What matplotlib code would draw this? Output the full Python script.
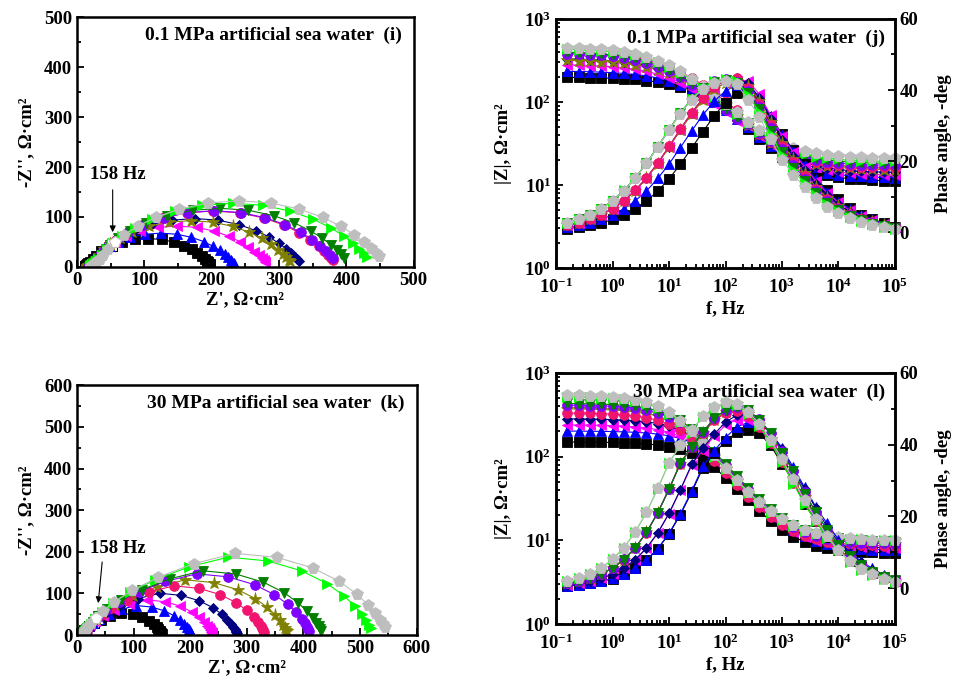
import matplotlib
matplotlib.use('Agg')
import matplotlib.pyplot as plt
from matplotlib.ticker import MultipleLocator, LogLocator, FuncFormatter, NullFormatter
import numpy as np

plt.rcParams['font.family'] = 'Liberation Serif'
plt.rcParams['font.weight'] = 'bold'
plt.rcParams['axes.labelweight'] = 'bold'
plt.rcParams['mathtext.fontset'] = 'custom'
plt.rcParams['mathtext.rm'] = 'Liberation Serif:bold'
plt.rcParams['mathtext.bf'] = 'Liberation Serif:bold'

# measuring frequencies, Hz (5 points per decade)
freq = [0.158, 0.251, 0.398, 0.631, 1.0, 1.58, 2.51, 3.98, 6.31, 10.0,
        15.8, 25.1, 39.8, 63.1, 100, 158, 251, 398, 631, 1000,
        1580, 2510, 3980, 6310, 1e4, 1.58e4, 2.51e4, 3.98e4, 6.31e4, 1e5]
hollow_idx = 15  # the 158 Hz point, drawn open in the Nyquist plots

# ---- 0.1 MPa, Z' and -Z'' (ohm cm2) ----
black_01_re = [198.0, 197.2, 196.1, 194.6, 192.5, 189.4, 185.1, 178.9, 170.3, 158.7, 143.7, 125.5, 105.5, 85.5, 67.3,
               52.3, 36.0, 28.5, 23.5, 19.5, 16.8, 14.8, 13.6, 12.8, 12.2, 11.8, 11.6, 11.4, 11.3, 11.2]
black_01_im = [3.6, 4.9, 6.7, 9.1, 12.2, 16.3, 21.4, 27.7, 35.0, 42.7, 49.8, 55.0, 56.9, 55.0, 49.8,
               42.7, 31.0, 22.0, 15.0, 10.2, 7.2, 5.2, 3.7, 2.7, 2.0, 1.4, 1.0, 0.75, 0.5, 0.3]
blue_01_re = [233.7, 232.4, 230.6, 228.0, 224.4, 219.2, 211.9, 201.7, 187.9, 170.0, 148.3, 124.5, 100.7, 79.1, 61.1,
              47.3, 37.0, 29.5, 24.5, 20.5, 17.8, 15.8, 14.6, 13.8, 13.2, 12.8, 12.6, 12.4, 12.3, 12.2]
blue_01_im = [5.9, 8.0, 10.8, 14.5, 19.4, 25.5, 33.0, 41.6, 50.9, 59.3, 65.5, 67.7, 65.5, 59.3, 50.9,
              41.6, 33.0, 23.0, 15.8, 10.6, 7.5, 5.4, 3.9, 2.8, 2.0, 1.5, 1.1, 0.8, 0.55, 0.35]
magenta_01_re = [279.5, 277.2, 274.1, 269.7, 263.5, 254.6, 242.3, 225.6, 203.9, 177.8, 149.0, 120.2, 94.1, 72.4, 55.7,
                 43.4, 38.0, 30.5, 25.5, 21.5, 18.8, 16.8, 15.6, 14.8, 14.2, 13.8, 13.6, 13.4, 13.3, 13.2]
magenta_01_im = [9.6, 13.0, 17.5, 23.4, 30.8, 39.9, 50.3, 61.5, 71.7, 79.2, 81.9, 79.2, 71.7, 61.5, 50.3,
                 39.9, 35.0, 24.5, 16.5, 11.0, 7.8, 5.6, 4.0, 2.9, 2.1, 1.5, 1.1, 0.8, 0.55, 0.35]
navy_01_re = [329.4, 326.8, 323.2, 317.9, 310.6, 300.1, 285.5, 265.7, 240.0, 209.1, 175.0, 140.9, 110.0, 84.3, 64.5,
              49.9, 39.0, 31.5, 26.5, 22.5, 19.8, 17.8, 16.6, 15.8, 15.2, 14.8, 14.6, 14.4, 14.3, 14.2]
navy_01_im = [11.4, 15.4, 20.8, 27.7, 36.5, 47.2, 59.6, 72.8, 84.9, 93.7, 96.9, 93.7, 84.9, 72.8, 59.6,
              47.2, 35.0, 24.5, 16.5, 11.0, 7.8, 5.6, 4.0, 2.9, 2.1, 1.5, 1.1, 0.8, 0.55, 0.35]
olive_01_re = [316.7, 314.2, 310.7, 305.7, 298.7, 288.6, 274.7, 255.8, 231.2, 201.6, 169.0, 136.4, 106.8, 82.2, 63.3,
               49.4, 40.0, 32.5, 27.5, 23.5, 20.8, 18.8, 17.6, 16.8, 16.2, 15.8, 15.6, 15.4, 15.3, 15.2]
olive_01_im = [10.9, 14.8, 19.9, 26.5, 34.9, 45.2, 57.0, 69.6, 81.2, 89.7, 92.7, 89.7, 81.2, 69.6, 57.0,
               45.2, 35.0, 24.5, 16.5, 11.0, 7.8, 5.6, 4.0, 2.9, 2.1, 1.5, 1.1, 0.8, 0.55, 0.35]
pink_01_re = [380.4, 377.4, 373.2, 367.1, 358.6, 346.5, 329.6, 306.8, 277.1, 241.4, 202.0, 162.6, 126.9, 97.2, 74.4,
              57.5, 41.0, 33.5, 28.5, 24.5, 21.8, 19.8, 18.6, 17.8, 17.2, 16.8, 16.6, 16.4, 16.3, 16.2]
pink_01_im = [13.2, 17.8, 24.0, 32.0, 42.1, 54.5, 68.9, 84.1, 98.1, 108.3, 112.0, 108.3, 98.1, 84.1, 68.9,
              54.5, 35.0, 24.5, 16.5, 11.0, 7.8, 5.6, 4.0, 2.9, 2.1, 1.5, 1.1, 0.8, 0.55, 0.35]
purple_01_re = [380.3, 376.1, 370.0, 361.5, 349.3, 332.3, 309.4, 279.5, 243.6, 204.0, 164.4, 128.5, 98.6, 75.7, 58.7,
                46.5, 42.0, 34.5, 29.5, 25.5, 22.8, 20.8, 19.6, 18.8, 18.2, 17.8, 17.6, 17.4, 17.3, 17.2]
purple_01_im = [17.9, 24.1, 32.2, 42.3, 54.8, 69.2, 84.5, 98.6, 108.9, 112.6, 108.9, 98.6, 84.5, 69.2, 54.8,
                42.3, 35.0, 24.5, 16.5, 11.0, 7.8, 5.6, 4.0, 2.9, 2.1, 1.5, 1.1, 0.8, 0.55, 0.35]
green_01_re = [396.9, 392.4, 386.1, 377.2, 364.5, 346.8, 322.9, 291.8, 254.3, 213.0, 171.7, 134.2, 103.1, 79.2, 61.5,
               48.8, 43.0, 35.5, 30.5, 26.5, 23.8, 21.8, 20.6, 19.8, 19.2, 18.8, 18.6, 18.4, 18.3, 18.2]
green_01_im = [18.7, 25.2, 33.5, 44.1, 57.2, 72.2, 88.1, 102.8, 113.5, 117.4, 113.5, 102.8, 88.1, 72.2, 57.2,
               44.1, 35.0, 24.5, 16.5, 11.0, 7.8, 5.6, 4.0, 2.9, 2.1, 1.5, 1.1, 0.8, 0.55, 0.35]
lime_01_re = [430.9, 426.1, 419.2, 409.5, 395.7, 376.5, 350.4, 316.6, 275.9, 231.0, 186.1, 145.4, 111.6, 85.5, 66.3,
              52.5, 44.0, 36.5, 31.5, 27.5, 24.8, 22.8, 21.6, 20.8, 20.2, 19.8, 19.6, 19.4, 19.3, 19.2]
lime_01_im = [20.3, 27.3, 36.5, 48.0, 62.2, 78.5, 95.8, 111.8, 123.4, 127.6, 123.4, 111.8, 95.8, 78.5, 62.2,
              48.0, 35.0, 24.5, 16.5, 11.0, 7.8, 5.6, 4.0, 2.9, 2.1, 1.5, 1.1, 0.8, 0.55, 0.35]
gray_01_re = [448.5, 443.4, 436.3, 426.2, 411.9, 392.0, 364.9, 329.9, 287.6, 241.0, 194.4, 152.1, 117.1, 90.0, 70.1,
              55.8, 46.0, 38.5, 33.5, 29.5, 26.8, 24.8, 23.6, 22.8, 22.2, 21.8, 21.6, 21.4, 21.3, 21.2]
gray_01_im = [21.1, 28.4, 37.8, 49.8, 64.5, 81.4, 99.4, 116.0, 128.1, 132.4, 128.1, 116.0, 99.4, 81.4, 64.5,
              49.8, 35.0, 24.5, 16.5, 11.0, 7.8, 5.6, 4.0, 2.9, 2.1, 1.5, 1.1, 0.8, 0.55, 0.35]

# ---- 30 MPa, Z' and -Z'' (ohm cm2) ----
black_30_re = [149.5, 149.2, 148.8, 148.3, 147.4, 146.0, 143.9, 140.6, 135.2, 126.9, 114.7, 98.1, 78.5, 58.9, 42.3,
               30.1, 21.8, 16.4, 13.1, 11.0, 9.6, 8.8, 8.2, 7.8, 7.6, 7.4, 7.3, 7.2, 7.1, 7.1]
black_30_im = [1.6, 2.3, 3.4, 4.8, 6.9, 9.8, 13.8, 19.2, 26.1, 34.3, 42.7, 49.4, 51.9, 45.4, 36.7,
               28.5, 21.1, 15.4, 10.9, 7.6, 5.5, 3.8, 2.8, 2.0, 1.44, 1.0, 0.76, 0.54, 0.37, 0.26]
blue_30_re = [201.8, 201.4, 200.9, 200.1, 198.9, 197.1, 194.2, 189.6, 182.4, 171.1, 154.3, 131.7, 105.0, 78.3, 55.7,
              38.9, 27.6, 20.4, 15.8, 12.9, 11.1, 9.9, 9.1, 8.6, 8.3, 8.0, 7.9, 7.7, 7.7, 7.6]
blue_30_im = [2.2, 3.2, 4.6, 6.6, 9.4, 13.4, 18.8, 26.2, 35.6, 46.7, 58.2, 67.3, 70.8, 61.9, 50.1,
              38.8, 28.8, 21.0, 14.9, 10.5, 7.4, 5.3, 3.8, 2.8, 2.0, 1.4, 1.05, 0.74, 0.51, 0.35]
magenta_30_re = [238.7, 238.1, 237.2, 235.7, 233.6, 230.1, 224.7, 216.0, 202.6, 182.7, 155.7, 124.0, 92.3, 65.3, 45.4,
                 32.0, 23.3, 17.9, 14.4, 12.3, 10.8, 9.9, 9.3, 8.9, 8.6, 8.4, 8.3, 8.2, 8.1, 8.1]
magenta_30_im = [3.8, 5.5, 7.8, 11.2, 15.9, 22.4, 31.1, 42.3, 55.6, 69.3, 80.1, 84.3, 73.7, 59.6, 46.1,
                 34.3, 24.9, 17.7, 12.4, 8.8, 6.2, 4.6, 3.3, 2.3, 1.66, 1.24, 0.88, 0.61, 0.42, 0.29]
navy_30_re = [282.5, 281.7, 280.6, 278.9, 276.3, 272.3, 265.8, 255.5, 239.5, 215.8, 183.8, 146.0, 108.2, 76.2, 52.5,
              36.5, 26.2, 19.7, 15.7, 13.1, 11.4, 10.3, 9.5, 9.1, 8.7, 8.5, 8.3, 8.2, 8.2, 8.1]
navy_30_im = [4.5, 6.5, 9.3, 13.3, 18.9, 26.6, 37.0, 50.4, 66.1, 82.4, 95.3, 100.3, 87.7, 70.9, 54.9,
              40.8, 29.6, 21.0, 14.7, 10.5, 7.4, 5.4, 3.9, 2.8, 2.0, 1.43, 1.05, 0.72, 0.50, 0.35]
olive_30_re = [371.0, 369.5, 367.3, 363.9, 358.5, 349.9, 336.3, 315.1, 283.8, 241.4, 191.5, 141.6, 99.2, 67.9, 46.7,
               33.1, 24.5, 19.1, 15.7, 13.5, 12.0, 11.0, 10.4, 9.9, 9.7, 9.5, 9.3, 9.2, 9.2, 9.1]
olive_30_im = [8.6, 12.3, 17.6, 25.0, 35.2, 49.0, 66.6, 87.5, 109.0, 126.0, 132.6, 115.9, 93.7, 72.6, 53.9,
               39.2, 27.8, 19.5, 13.9, 9.8, 7.1, 5.2, 3.7, 2.7, 1.9, 1.4, 0.96, 0.66, 0.46, 0.32]
pink_30_re = [330.8, 329.5, 327.5, 324.5, 319.7, 312.1, 299.9, 281.1, 253.2, 215.5, 171.0, 126.5, 88.8, 60.9, 42.1,
              29.9, 22.3, 17.5, 14.5, 12.5, 11.2, 10.3, 9.7, 9.3, 9.1, 8.9, 8.8, 8.7, 8.6, 8.6]
pink_30_im = [7.6, 11.0, 15.7, 22.3, 31.4, 43.6, 59.3, 77.9, 97.0, 112.2, 118.1, 103.2, 83.4, 64.7, 48.0,
              34.9, 24.8, 17.4, 12.4, 8.8, 6.3, 4.6, 3.3, 2.4, 1.7, 1.2, 0.85, 0.59, 0.41, 0.28]
purple_30_re = [410.7, 409.0, 406.6, 402.8, 396.8, 387.3, 372.2, 348.7, 313.9, 266.9, 211.5, 156.1, 109.1, 74.3, 50.8,
                35.7, 26.2, 20.2, 16.4, 14.0, 12.3, 11.3, 10.6, 10.0, 9.7, 9.5, 9.3, 9.2, 9.2, 9.1]
purple_30_im = [9.5, 13.7, 19.5, 27.8, 39.1, 54.4, 73.9, 97.0, 120.9, 139.8, 147.1, 128.6, 104.0, 80.5, 59.9,
                43.5, 30.9, 21.7, 15.4, 11.0, 7.9, 5.7, 4.1, 2.9, 2.1, 1.5, 1.06, 0.73, 0.51, 0.35]
green_30_re = [431.0, 429.3, 426.7, 422.7, 416.4, 406.5, 390.6, 366.0, 329.4, 280.1, 222.0, 163.9, 114.6, 78.0, 53.4,
               37.5, 27.6, 21.3, 17.3, 14.7, 13.0, 11.9, 11.1, 10.6, 10.3, 10.0, 9.9, 9.8, 9.7, 9.6]
green_30_im = [10.0, 14.3, 20.5, 29.1, 41.0, 57.0, 77.5, 101.8, 126.9, 146.7, 154.4, 135.0, 109.1, 84.5, 62.8,
               45.6, 32.4, 22.7, 16.2, 11.4, 8.3, 5.9, 4.3, 3.1, 2.2, 1.6, 1.1, 0.77, 0.53, 0.37]
lime_30_re = [518.7, 515.6, 510.7, 503.1, 491.0, 471.8, 442.0, 397.7, 337.9, 267.5, 197.1, 137.3, 93.0, 63.2, 44.0,
              31.9, 24.3, 19.4, 16.3, 14.2, 12.9, 12.0, 11.3, 10.9, 10.6, 10.4, 10.3, 10.2, 10.2, 10.1]
lime_30_im = [17.4, 24.8, 35.3, 49.7, 69.1, 94.0, 123.4, 153.7, 177.8, 187.1, 163.6, 132.2, 102.4, 76.1, 55.3,
              39.3, 27.5, 19.6, 13.9, 10.0, 7.2, 5.2, 3.8, 2.7, 2.0, 1.35, 0.93, 0.65, 0.45, 0.31]
gray_30_re = [543.4, 540.1, 535.0, 527.1, 514.4, 494.3, 462.9, 416.5, 353.9, 280.0, 206.1, 143.5, 97.1, 65.7, 45.6,
              33.0, 25.0, 19.9, 16.6, 14.5, 13.0, 12.1, 11.4, 11.0, 10.7, 10.5, 10.3, 10.2, 10.2, 10.1]
gray_30_im = [18.2, 26.0, 37.0, 52.1, 72.5, 98.5, 129.4, 161.2, 186.4, 196.2, 171.5, 138.6, 107.4, 79.8, 58.0,
              41.2, 28.9, 20.5, 14.6, 10.5, 7.6, 5.5, 4.0, 2.85, 2.0, 1.4, 0.98, 0.68, 0.47, 0.32]

data_01 = [(black_01_re, black_01_im), (blue_01_re, blue_01_im), (magenta_01_re, magenta_01_im),
           (navy_01_re, navy_01_im), (olive_01_re, olive_01_im), (pink_01_re, pink_01_im),
           (purple_01_re, purple_01_im), (green_01_re, green_01_im), (lime_01_re, lime_01_im),
           (gray_01_re, gray_01_im)]
data_30 = [(black_30_re, black_30_im), (blue_30_re, blue_30_im), (magenta_30_re, magenta_30_im),
           (navy_30_re, navy_30_im), (olive_30_re, olive_30_im), (pink_30_re, pink_30_im),
           (purple_30_re, purple_30_im), (green_30_re, green_30_im), (lime_30_re, lime_30_im),
           (gray_30_re, gray_30_im)]

colors = ['#000000', '#0000FF', '#FF00FF', '#000080', '#808000', '#F0146E', '#8000FF', '#007F00', '#00FF00', '#BEBEBE']
markers = ['s', '^', '<', 'D', '*', 'o', 'o', 'v', '>', 'p']
msizes = [6.5, 7, 7, 5.5, 9.5, 7, 7, 7, 7, 8.5]

FS = 13.5


def style_ticks(ax, **kw):
    ax.tick_params(which='both', direction='in', width=1.3, labelsize=FS, **kw)
    ax.tick_params(which='major', length=5)
    ax.tick_params(which='minor', length=3)
    for sp in ax.spines.values():
        sp.set_linewidth(1.8)


def nyquist(ax, data, lim, title, note_xy, note_from, note_to):
    for (re, im), c, m, s in zip(data, colors, markers, msizes):
        ax.plot(re, im, color=c, lw=0.8, marker=m, ms=s, mec=c, mfc=c, mew=0.6)
        ax.plot(re[hollow_idx], im[hollow_idx], marker=m, ms=s, mec=c, mfc='white', mew=0.8, ls='none')
    ax.set_xlim(0, lim)
    ax.set_ylim(0, lim)
    ax.xaxis.set_major_locator(MultipleLocator(100))
    ax.yaxis.set_major_locator(MultipleLocator(100))
    ax.xaxis.set_minor_locator(MultipleLocator(50))
    ax.yaxis.set_minor_locator(MultipleLocator(50))
    style_ticks(ax, top=False, right=False)
    ax.set_xlabel("Z', \u03a9\u00b7cm\u00b2", fontsize=FS, labelpad=2)
    ax.set_ylabel("-Z'', \u03a9\u00b7cm\u00b2", fontsize=FS, labelpad=6)
    ax.text(0.964, 0.928, title, transform=ax.transAxes, ha='right', va='center', fontsize=14)
    ax.text(note_xy[0], note_xy[1], '158 Hz', ha='center', va='center', fontsize=FS)
    ax.annotate('', xy=note_to, xytext=note_from,
                arrowprops=dict(arrowstyle='-|>', color='black', lw=0.8, mutation_scale=9))


def log_label(v, pos):
    return r'$\mathbf{10^{%d}}$' % int(round(np.log10(v)))


def bode(ax, data, title):
    ax2 = ax.twinx()
    for (re, im), c, m, s in zip(data, colors, markers, msizes):
        re = np.array(re)
        im = np.array(im)
        mod = np.hypot(re, im)
        phase = np.degrees(np.arctan2(im, re))
        ax.plot(freq, mod, color=c, lw=0.8, marker=m, ms=s, mec=c, mfc=c, mew=0.6, clip_on=False)
        ax2.plot(freq, phase, color=c, lw=0.8, marker=m, ms=s, mec=c, mfc=c, mew=0.6, clip_on=False)
    ax.set_xscale('log')
    ax.set_yscale('log')
    ax.set_xlim(1e-1, 1e5)
    ax.set_ylim(1, 1e3)
    for axis in (ax.xaxis, ax.yaxis):
        axis.set_major_locator(LogLocator(base=10, numticks=10))
        axis.set_minor_locator(LogLocator(base=10, subs=np.arange(2, 10), numticks=10))
        axis.set_major_formatter(FuncFormatter(log_label))
        axis.set_minor_formatter(NullFormatter())
    ax2.set_ylim(-10, 60)
    ax2.yaxis.set_major_locator(MultipleLocator(20))
    ax2.yaxis.set_minor_locator(MultipleLocator(10))
    style_ticks(ax, top=False, right=False)
    ax.tick_params(axis='x', which='major', pad=7)
    style_ticks(ax2, top=False, left=False)
    ax.set_xlabel('f, Hz', fontsize=FS, labelpad=2)
    ax.set_ylabel('|Z|, \u03a9\u00b7cm\u00b2', fontsize=FS, labelpad=9)
    ax2.set_ylabel('Phase angle, -deg', fontsize=FS, labelpad=12)
    ax2.text(0.97, 0.924, title, transform=ax.transAxes, ha='right', va='center', fontsize=14, zorder=10)


fig = plt.figure(figsize=(9.54, 6.88), dpi=100, facecolor='white')

ax_i = fig.add_axes([0.0807, 0.612, 0.353, 0.363])
ax_j = fig.add_axes([0.583, 0.6105, 0.355, 0.362])
ax_k = fig.add_axes([0.0807, 0.077, 0.356, 0.363])
ax_l = fig.add_axes([0.583, 0.093, 0.355, 0.365])

nyquist(ax_i, data_01, 500, '0.1 MPa artificial sea water  (i)', (61, 186), (53, 160), (53, 64))
nyquist(ax_k, data_30, 600, '30 MPa artificial sea water  (k)', (73, 209), (45, 182), (37, 70))
bode(ax_j, data_01, '0.1 MPa artificial sea water  (j)')
bode(ax_l, data_30, '30 MPa artificial sea water  (l)')

fig.savefig('out.png', dpi=100)
